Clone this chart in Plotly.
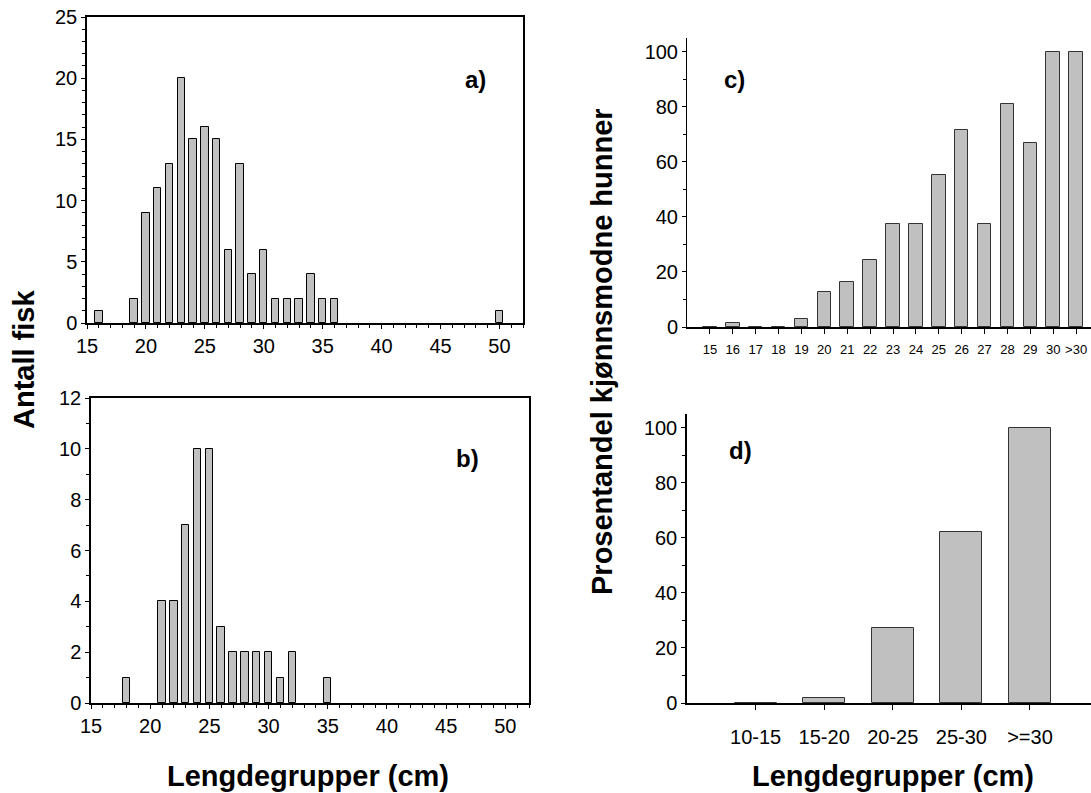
import plotly.graph_objects as go

# ---- data ----
len_a = [16, 19, 20, 21, 22, 23, 24, 25, 26, 27, 28, 29, 30, 31, 32, 33, 34, 35, 36, 50]
cnt_a = [1, 2, 9, 11, 13, 20, 15, 16, 15, 6, 13, 4, 6, 2, 2, 2, 4, 2, 2, 1]

len_b = [18, 21, 22, 23, 24, 25, 26, 27, 28, 29, 30, 31, 32, 35]
cnt_b = [1, 4, 4, 7, 10, 10, 3, 2, 2, 2, 2, 1, 2, 1]

cat_c = ["15", "16", "17", "18", "19", "20", "21", "22", "23", "24", "25", "26",
         "27", "28", "29", "30", ">30"]
pct_c = [0, 1.5, 0, 0, 3, 12.7, 16.5, 24.5, 37.6, 37.6, 55.3, 71.4, 37.6, 81.2,
         66.7, 100, 100]

cat_d = ["10-15", "15-20", "20-25", "25-30", ">=30"]
pct_d = [0, 2, 27.3, 62, 100]

W, H = 1091, 793
FONT = "Liberation Sans, Arial, sans-serif"
BAR_FILL = "#c0c0c0"


def px(x):
    return x / W


def py(y):
    return 1 - y / H


fig = go.Figure()

fig.add_trace(go.Bar(x=len_a, y=cnt_a, width=0.63, marker=dict(color=BAR_FILL, line=dict(color="black", width=1)),
                     xaxis="x", yaxis="y", showlegend=False))
fig.add_trace(go.Bar(x=len_b, y=cnt_b, width=0.63, marker=dict(color=BAR_FILL, line=dict(color="black", width=1)),
                     xaxis="x2", yaxis="y2", showlegend=False))
fig.add_trace(go.Bar(x=cat_c, y=pct_c, width=0.59, marker=dict(color=BAR_FILL, line=dict(color="#333333", width=1)),
                     xaxis="x3", yaxis="y3", showlegend=False))
fig.add_trace(go.Bar(x=cat_d, y=pct_d, width=0.61, marker=dict(color=BAR_FILL, line=dict(color="#333333", width=1)),
                     xaxis="x4", yaxis="y4", showlegend=False))

tickfont = dict(family=FONT, size=20, color="black")
minor_common = dict(ticks="outside", ticklen=3, tickcolor="black", showgrid=False)

hist_x = dict(range=[15, 52], tickvals=[15, 20, 25, 30, 35, 40, 45, 50], ticks="outside", ticklen=4,
              tickcolor="black", showline=True, linecolor="black", linewidth=1.5, mirror=True,
              showgrid=False, zeroline=False, tickfont=tickfont, automargin=False,
              minor=dict(dtick=1, **minor_common))
hist_y = dict(ticks="outside", ticklen=4, tickcolor="black", showline=True, linecolor="black",
              linewidth=1.5, mirror=True, showgrid=False, zeroline=False, tickfont=tickfont,
              automargin=False)

fig.update_layout(
    width=W, height=H,
    margin=dict(l=0, r=0, t=0, b=0, pad=0),
    paper_bgcolor="white", plot_bgcolor="white",
    bargap=0,
    xaxis=dict(domain=[px(87), px(523)], anchor="y", **hist_x),
    yaxis=dict(domain=[py(323), py(17)], anchor="x", range=[0, 25], tickvals=[0, 5, 10, 15, 20, 25],
               minor=dict(dtick=1, **minor_common), **hist_y),
    xaxis2=dict(domain=[px(91), px(529)], anchor="y2", **hist_x),
    yaxis2=dict(domain=[py(703), py(398)], anchor="x2", range=[0, 12], tickvals=[0, 2, 4, 6, 8, 10, 12],
                minor=dict(dtick=1, **minor_common), **hist_y),
    xaxis3=dict(domain=[px(687), 1.0], anchor="y3", type="category", range=[-1, 16.65],
                ticks="outside", ticklen=5, tickcolor="black", showline=True, linecolor="black",
                linewidth=1.5, showgrid=False, zeroline=False, automargin=False,
                tickfont=dict(family=FONT, size=13, color="black"), ticklabelstandoff=5),
    yaxis3=dict(domain=[py(327), py(38)], anchor="x3", range=[0, 105], tickvals=[0, 20, 40, 60, 80, 100],
                ticks="outside", ticklen=4, tickcolor="black", showline=True, linecolor="black", linewidth=1,
                showgrid=False, zeroline=False, tickfont=tickfont, automargin=False,
                minor=dict(dtick=10, **minor_common)),
    xaxis4=dict(domain=[px(687), 1.0], anchor="y4", type="category", range=[-1, 4.89],
                ticks="outside", ticklen=5, tickcolor="black", showline=True, linecolor="black",
                linewidth=1.5, showgrid=False, zeroline=False, tickfont=tickfont, automargin=False,
                ticklabelstandoff=10),
    yaxis4=dict(domain=[py(703), py(414)], anchor="x4", range=[0, 105], tickvals=[0, 20, 40, 60, 80, 100],
                ticks="outside", ticklen=4, tickcolor="black", showline=True, linecolor="black", linewidth=1.5,
                showgrid=False, zeroline=False, tickfont=tickfont, automargin=False,
                minor=dict(dtick=10, **minor_common)),
)

title_font = dict(family=FONT, size=29, color="black")
panel_font = dict(family=FONT, size=24, color="black")


def ann(text, x, y, font, angle=0):
    fig.add_annotation(text=text, x=px(x), y=py(y), xref="paper", yref="paper",
                       showarrow=False, font=font, textangle=angle, xanchor="center", yanchor="middle")


ann("<b>Antall fisk</b>", 24, 360, title_font, -90)
ann("<b>Prosentandel kjønnsmodne hunner</b>", 602, 352, title_font, -90)
ann("<b>Lengdegrupper (cm)</b>", 308, 776, title_font)
ann("<b>Lengdegrupper (cm)</b>", 893, 776, title_font)
ann("<b>a)</b>", 475, 80, panel_font)
ann("<b>b)</b>", 467, 458, panel_font)
ann("<b>c)</b>", 734, 80, panel_font)
ann("<b>d)</b>", 740, 450, panel_font)

fig.write_html("out.html", config={"displayModeBar": False},
               post_script="document.body.style.margin='0px';document.body.style.overflow='hidden';")
